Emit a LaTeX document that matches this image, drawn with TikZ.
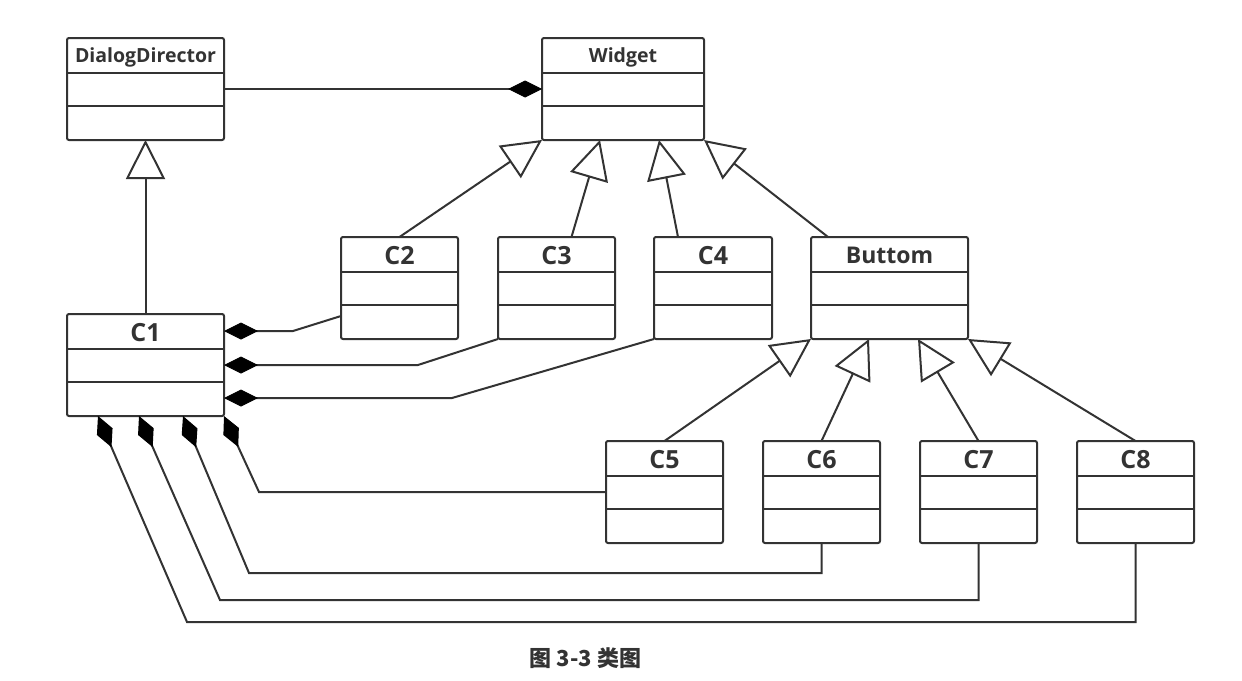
\documentclass[tikz,border=0pt]{standalone}
\usepackage{fontspec}
\setmainfont{Open Sans}
\newfontfamily\cjk{Noto Sans CJK SC}
\usetikzlibrary{arrows.meta,calc}
\definecolor{ln}{HTML}{333333}
\tikzset{
  clsbox/.style={draw=ln, line width=2pt, rounded corners=2pt, fill=white,
    inner sep=0pt, outer sep=0pt, anchor=north west, minimum height=102pt},
  divline/.style={draw=ln, line width=2pt},
  lbl/.style={inner sep=0pt, anchor=base, text=ln},
  conn/.style={draw=ln, line width=2pt},
  comp/.style={conn, {Diamond[length=34pt, width=17pt, fill=black, color=black, line width=1pt]}-},
  gen/.style={conn, -{Triangle[open, length=39pt, width=39pt, line width=2pt]}},
}
% #1 name, #2 left, #3 top, #4 width, #5 label, #6 font size, #7 baseline offset
\newcommand{\umlclass}[7]{%
  \node[clsbox, minimum width=#4pt] (#1) at (#2,#3) {};
  \draw[divline] ([yshift=-35pt]#1.north west) -- ([yshift=-35pt]#1.north east);
  \draw[divline] ([yshift=-68pt]#1.north west) -- ([yshift=-68pt]#1.north east);
  \node[lbl, font=\bfseries\fontsize{#6}{#6}\selectfont] (#1-l) at ([yshift=-#7pt]#1.north) {#5};
}
\begin{document}
\begin{tikzpicture}[x=1pt, y=-1pt]
  \fill[white] (0,0) rectangle (1242,680);
  \useasboundingbox (0,0) rectangle (1242,680);

  \umlclass{dd}{67}{38}{157}{DialogDirector}{19.5}{24.5}
  \umlclass{w}{542}{38}{162}{Widget}{19.5}{24.5}
  \umlclass{c1}{67}{314}{157}{C1}{25}{27.5}
  \umlclass{c2}{341}{237}{117}{C2}{25}{27}
  \umlclass{c3}{498}{237}{117}{C3}{25}{27}
  \umlclass{c4}{654}{237}{118}{C4}{25}{27}
  \umlclass{bt}{811}{237}{157}{Buttom}{23}{26}
  \umlclass{c5}{606}{441}{117}{C5}{25}{27}
  \umlclass{c6}{763}{441}{117}{C6}{25}{27}
  \umlclass{c7}{920}{441}{117}{C7}{25}{27}
  \umlclass{c8}{1077}{441}{117}{C8}{25}{27}

  % composition DialogDirector - Widget
  \draw[comp] (w.west) -- (dd.east);

  % generalizations
  \draw[gen] (c1.north) -- (dd.south);
  \draw[gen] (c2.north) -- (w.south west);
  \draw[gen] ([xshift=15pt]c3.north) -- ([xshift=58pt]w.south west);
  \draw[gen] ([xshift=-35pt]c4.north) -- ([xshift=117pt]w.south west);
  \draw[gen] ([xshift=17pt]bt.north west) -- (w.south east);
  \draw[gen] (c5.north) -- (bt.south west);
  \draw[gen] (c6.north) -- ([xshift=58pt]bt.south west);
  \draw[gen] (c7.north) -- ([xshift=107pt]bt.south west);
  \draw[gen] (c8.north) -- (bt.south east);

  % compositions from C1 (right side)
  \draw[comp] ([yshift=-17pt]c1.north east) -- ++(69,0) -- ([yshift=-79pt]c2.north west);
  \draw[comp] (c1.east) -- ++(194,0) -- (c3.south west);
  \draw[comp] ([yshift=18pt]c1.south east) -- ++(228,0) -- (c4.south west);

  % compositions from C1 (bottom)
  \draw[comp] ([xshift=31pt]c1.south west) -- ++(89,206) -| (c8.south);
  \draw[comp] ([xshift=72pt]c1.south west) -- ++(81,184) -| (c7.south);
  \draw[comp] ([xshift=116pt]c1.south west) -- ++(66,157) -| (c6.south);
  \draw[comp] (c1.south east) -- ++(35,76) -- (c5.west);

  % caption
  \node[text=ln, font=\cjk\bfseries\fontsize{22}{26}\selectfont] (cap) at (585.5,658) {图 3-3 类图};
\end{tikzpicture}
\end{document}
